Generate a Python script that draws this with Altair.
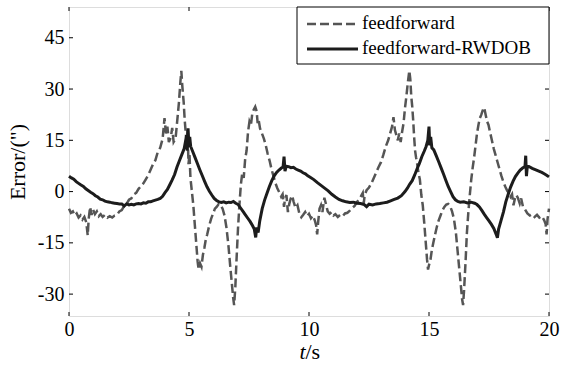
import altair as alt
import pandas as pd

# ---- data ----
t_ff = [0.00, 0.08, 0.16, 0.24, 0.32, 0.40, 0.48, 0.56, 0.64, 0.72, 0.78, 0.82, 0.88, 0.94,
        1.00, 1.08, 1.16, 1.24, 1.32, 1.40, 1.50, 1.60, 1.70, 1.80, 1.90, 2.00, 2.10, 2.20,
        2.30, 2.40, 2.50, 2.60, 2.70, 2.80, 2.90, 3.00, 3.10, 3.20, 3.30, 3.40, 3.50, 3.60,
        3.70, 3.80, 3.90, 3.98, 4.04, 4.10, 4.16, 4.24, 4.30, 4.36, 4.44, 4.50, 4.58, 4.64,
        4.68, 4.72, 4.78, 4.82, 4.86, 4.90, 4.94, 4.98, 5.02, 5.06, 5.12, 5.18, 5.24, 5.30,
        5.36, 5.40, 5.46, 5.52, 5.58, 5.64, 5.70, 5.76, 5.84, 5.92, 6.00, 6.08, 6.16, 6.24,
        6.32, 6.40, 6.48, 6.56, 6.64, 6.72, 6.78, 6.84, 6.88, 6.93, 6.98, 7.04, 7.10, 7.16,
        7.22, 7.28, 7.34, 7.40, 7.46, 7.52, 7.58, 7.64, 7.70, 7.76, 7.82, 7.86, 7.90, 7.96,
        8.04, 8.12, 8.20, 8.28, 8.36, 8.44, 8.52, 8.60, 8.68, 8.76, 8.84, 8.90, 8.96, 9.00,
        9.06, 9.12, 9.18, 9.24, 9.30, 9.36, 9.44, 9.52, 9.60, 9.68, 9.76, 9.84, 9.92, 10.00,
        10.08, 10.16, 10.24, 10.30, 10.34, 10.38, 10.44, 10.50, 10.56, 10.64, 10.70, 10.78,
        10.86, 10.94, 11.02, 11.10, 11.20, 11.30, 11.40, 11.50, 11.60, 11.70, 11.80, 11.90,
        12.00, 12.10, 12.18, 12.24, 12.28, 12.32, 12.40, 12.50, 12.60, 12.70, 12.80, 12.90,
        13.00, 13.10, 13.20, 13.30, 13.38, 13.46, 13.52, 13.58, 13.64, 13.70, 13.76, 13.82,
        13.88, 13.94, 14.00, 14.06, 14.12, 14.18, 14.22, 14.26, 14.30, 14.34, 14.38, 14.42,
        14.46, 14.50, 14.56, 14.62, 14.68, 14.74, 14.80, 14.86, 14.92, 14.96, 15.00, 15.06,
        15.12, 15.18, 15.24, 15.32, 15.40, 15.48, 15.56, 15.64, 15.72, 15.80, 15.88, 15.96,
        16.04, 16.12, 16.20, 16.26, 16.32, 16.38, 16.42, 16.46, 16.52, 16.58, 16.64, 16.70,
        16.76, 16.82, 16.88, 16.94, 17.00, 17.06, 17.12, 17.18, 17.24, 17.30, 17.36, 17.42,
        17.48, 17.54, 17.62, 17.70, 17.78, 17.86, 17.94, 18.02, 18.10, 18.18, 18.26, 18.34,
        18.40, 18.46, 18.52, 18.58, 18.64, 18.70, 18.78, 18.84, 18.92, 19.00, 19.10, 19.20,
        19.30, 19.40, 19.50, 19.60, 19.70, 19.80, 19.86, 19.90, 19.94, 20.00]
e_ff = [-5.0, -6.2, -5.8, -7.0, -6.4, -7.6, -7.0, -8.2, -7.4, -9.0, -12.8, -8.0, -4.5, -6.8,
        -5.2, -6.6, -5.8, -7.2, -6.6, -7.4, -6.8, -7.6, -7.2, -7.6, -7.0, -6.8, -5.8, -5.4,
        -4.2, -3.6, -2.4, -2.0, -0.8, -0.4, 0.8, 1.6, 2.4, 3.6, 4.8, 6.4, 8.0, 9.2,
        11.6, 12.8, 15.4, 21.5, 17.0, 19.0, 14.5, 15.8, 18.6, 14.5, 15.5, 20.0, 26.0, 32.0,
        35.3, 31.0, 26.0, 21.0, 17.5, 14.5, 18.0, 8.0, 11.0, 4.0, 0.0, -4.0, -9.5, -15.0,
        -20.5, -22.8, -21.0, -22.0, -18.5, -16.5, -14.0, -12.5, -10.0, -8.0, -6.5, -5.0, -4.4, -3.6,
        -4.0, -5.0, -7.0, -10.5, -15.5, -22.0, -26.5, -31.0, -33.2, -28.0, -20.0, -11.0, -4.0, 2.0,
        5.5, 4.0, 9.5, 12.0, 17.5, 20.5, 19.5, 23.0, 24.0, 24.8, 23.5, 20.0, 21.0, 18.5,
        17.0, 15.5, 13.5, 11.0, 9.0, 6.5, 4.5, 2.5, 1.0, -0.2, -1.5, -0.8, -4.5, -2.0,
        -1.0, -6.0, -3.5, -2.0, -1.2, -3.0, -4.8, -4.0, -6.5, -7.5, -6.8, -6.0, -7.2, -6.5,
        -7.8, -7.0, -8.4, -10.0, -12.5, -9.0, -5.0, -4.0, -6.0, -1.8, -3.5, -5.8,
        -6.5, -6.0, -7.0, -6.6, -7.4, -6.8, -7.2, -6.4, -6.2, -5.6, -4.8, -4.2,
        -3.0, -2.4, -1.2, -0.4, -3.5, -1.0, 0.4, 1.2, 2.4, 4.0, 5.6, 7.2,
        8.6, 10.8, 13.2, 15.0, 17.0, 19.0, 21.8, 18.0, 16.5, 15.0, 17.0, 14.5,
        17.5, 20.0, 24.5, 28.0, 32.0, 35.4, 33.0, 28.0, 25.0, 21.0, 16.0, 12.0,
        10.0, 8.5, 5.5, 3.5, -1.0, -4.0, -9.0, -14.5, -20.0, -22.8, -21.5, -20.0,
        -17.0, -15.0, -13.0, -10.5, -8.5, -7.0, -5.5, -4.5, -3.8, -3.6, -4.2, -5.8,
        -8.0, -12.0, -18.0, -22.5, -27.0, -31.5, -33.2, -29.0, -21.0, -12.0, -6.0, -1.0,
        3.5, 7.0, 10.0, 13.5, 17.0, 19.5, 21.5, 22.5, 23.8, 24.6, 22.5, 20.5,
        19.5, 17.5, 15.0, 12.5, 10.5, 8.5, 6.5, 4.5, 2.8, 1.4, 0.2, -0.5,
        -1.5, -0.8, -4.0, -2.0, -1.0, -1.8, -3.5, -2.0, -4.6, -5.2, -6.4, -7.0,
        -6.6, -7.4, -6.8, -7.6, -7.2, -8.4, -9.5, -12.5, -8.0, -5.0]

t_rw = [0.00, 0.10, 0.20, 0.30, 0.40, 0.50, 0.60, 0.70, 0.80, 0.90, 1.00, 1.10, 1.20, 1.30,
        1.40, 1.50, 1.60, 1.70, 1.80, 1.90, 2.00, 2.10, 2.20, 2.30, 2.40, 2.50, 2.60, 2.70,
        2.80, 2.90, 3.00, 3.10, 3.20, 3.30, 3.40, 3.50, 3.60, 3.70, 3.80, 3.90, 4.00, 4.10,
        4.20, 4.30, 4.40, 4.50, 4.60, 4.70, 4.80, 4.85, 4.90, 4.93, 4.96, 5.00, 5.03, 5.07,
        5.15, 5.25, 5.35, 5.45, 5.55, 5.65, 5.75, 5.85, 5.95, 6.05, 6.15, 6.25, 6.35, 6.45,
        6.55, 6.65, 6.75, 6.85, 6.95, 7.05, 7.15, 7.25, 7.35, 7.45, 7.55, 7.65, 7.72, 7.78,
        7.82, 7.88, 7.95, 8.05, 8.15, 8.25, 8.35, 8.45, 8.55, 8.65, 8.75, 8.85, 8.92, 8.96,
        9.00, 9.05, 9.15, 9.25, 9.35, 9.45, 9.55, 9.65, 9.75, 9.85, 9.95, 10.05, 10.20, 10.35,
        10.50, 10.65, 10.80, 10.95, 11.10, 11.25, 11.40, 11.55, 11.70, 11.85, 12.00, 12.15,
        12.30, 12.40, 12.50, 12.65, 12.80, 12.95, 13.10, 13.25, 13.40, 13.55, 13.70, 13.85,
        14.00, 14.10, 14.20, 14.30, 14.40, 14.50, 14.60, 14.70, 14.80, 14.88, 14.95, 15.00,
        15.03, 15.07, 15.12, 15.20, 15.30, 15.40, 15.50, 15.60, 15.70, 15.80, 15.90, 16.00,
        16.10, 16.20, 16.30, 16.45, 16.60, 16.75, 16.90, 17.00, 17.10, 17.20, 17.30, 17.40,
        17.50, 17.60, 17.70, 17.80, 17.85, 17.90, 18.00, 18.10, 18.20, 18.30, 18.40, 18.50,
        18.60, 18.70, 18.80, 18.90, 19.00, 19.03, 19.06, 19.10, 19.20, 19.30, 19.40, 19.50,
        19.60, 19.70, 19.80, 19.90, 20.00]
e_rw = [4.5, 4.0, 3.6, 2.9, 2.4, 1.9, 1.5, 0.8, 0.3, -0.2, -0.6, -1.2, -1.6, -2.2,
        -2.4, -2.8, -3.0, -3.1, -3.3, -3.4, -3.5, -3.6, -3.6, -4.2, -3.6, -3.9, -3.7, -3.9,
        -3.6, -3.5, -3.6, -3.3, -3.4, -3.0, -3.0, -2.7, -2.5, -2.3, -2.0, -1.4, -0.3, 0.6,
        2.0, 3.4, 5.0, 7.2, 9.0, 10.8, 12.6, 14.5, 16.5, 12.0, 18.5, 13.0, 16.0, 13.2,
        11.8, 10.0, 8.2, 6.4, 4.7, 3.0, 1.4, 0.1, -1.0, -2.0, -2.6, -3.0, -3.2, -3.0,
        -3.3, -3.1, -3.2, -2.9, -3.4, -3.8, -4.8, -5.8, -6.8, -7.8, -8.8, -10.0, -11.0, -13.4,
        -10.5, -12.0, -8.5, -5.0, -2.5, -0.5, 1.5, 3.2, 4.6, 5.6, 6.3, 6.9, 7.2, 10.2,
        6.0, 7.4, 7.3, 7.0, 7.1, 6.6, 6.3, 6.0, 5.5, 5.2, 4.6, 4.2, 3.5, 2.6,
        1.8, 1.0, 0.2, -0.8, -1.6, -2.3, -2.7, -3.0, -3.2, -3.1, -3.4, -3.5,
        -3.8, -4.4, -3.7, -3.9, -3.6, -3.5, -3.3, -3.1, -2.7, -2.3, -1.9, -1.2,
        0.0, 1.0, 2.2, 3.2, 4.8, 6.6, 8.2, 10.2, 11.8, 13.2, 15.0, 19.0,
        13.5, 16.0, 12.8, 12.2, 10.5, 8.8, 7.0, 5.2, 3.3, 1.5, 0.0, -1.5,
        -2.4, -2.9, -3.1, -3.0, -3.3, -3.1, -3.4, -3.8, -4.5, -5.5, -6.6, -7.6,
        -8.6, -9.6, -10.8, -12.5, -13.5, -11.0, -8.5, -6.0, -3.0, -0.8, 1.3, 3.0,
        4.4, 5.4, 6.3, 6.9, 7.3, 10.5, 4.5, 7.6, 7.2, 6.8, 6.5, 6.2,
        5.9, 5.6, 5.2, 4.8, 4.3]

x_ticks = [0, 5, 10, 15, 20]
y_ticks = [-30, -15, 0, 15, 30, 45]
series_names = ["feedforward", "feedforward-RWDOB"]

FONT = "Liberation Serif"
W, H = 480, 309
C_FF, C_RW = "#555555", "#1c1c1c"

df_ff = pd.DataFrame({"t": t_ff, "e": e_ff})
df_rw = pd.DataFrame({"t": t_rw, "e": e_rw})
df_xt = pd.DataFrame({"t": x_ticks})
df_yt = pd.DataFrame({"e": y_ticks})

xs = alt.Scale(domain=[0, 20], nice=False, zero=False)
ys = alt.Scale(domain=[-36.4, 54], nice=False, zero=False)

x_axis = alt.Axis(values=x_ticks, ticks=False, domain=False, grid=False,
                  labelFont=FONT, labelFontSize=20, labelColor="black",
                  labelPadding=3, labelFlush=False, title=None,
                  labelExpr="'' + datum.value")
y_axis = alt.Axis(values=y_ticks, ticks=False, domain=False, grid=False,
                  labelFont=FONT, labelFontSize=20, labelColor="black",
                  labelPadding=5, labelExpr="'' + datum.value",
                  title='Error/(")', titleFont=FONT, titleFontSize=22,
                  titleFontWeight="normal", titleColor="black", titlePadding=8)

X = alt.X("t:Q", scale=xs, axis=x_axis)
Y = alt.Y("e:Q", scale=ys, axis=y_axis)

ff = alt.Chart(df_ff).mark_line(color=C_FF, strokeWidth=2.5, strokeDash=[9, 4]).encode(x=X, y=Y)
rw = alt.Chart(df_rw).mark_line(color=C_RW, strokeWidth=3).encode(x=X, y=Y)

tk = dict(color="black", strokeWidth=1)
yt_left = alt.Chart(df_yt).mark_rule(**tk).encode(y=Y, x=alt.value(0), x2=alt.value(4))
yt_right = alt.Chart(df_yt).mark_rule(**tk).encode(y=Y, x=alt.value(W - 4), x2=alt.value(W))
xt_bot = alt.Chart(df_xt).mark_rule(**tk).encode(x=X, y=alt.value(H), y2=alt.value(H - 4))
xt_top = alt.Chart(df_xt).mark_rule(**tk).encode(x=X, y=alt.value(0), y2=alt.value(4))

# x-axis title with italic "t"
xt1 = alt.Chart(pd.DataFrame({"s": ["t"]})).mark_text(
    font=FONT, fontSize=22, fontStyle="italic", align="right", baseline="alphabetic",
    color="black").encode(text="s:N", x=alt.value(236.5), y=alt.value(352))
xt2 = alt.Chart(pd.DataFrame({"s": ["/s"]})).mark_text(
    font=FONT, fontSize=22, align="left", baseline="alphabetic",
    color="black").encode(text="s:N", x=alt.value(236.5), y=alt.value(352))

# legend box
leg_box = alt.Chart(pd.DataFrame({"a": [0]})).mark_rect(
    fill="white", stroke="black", strokeWidth=1).encode(
    x=alt.value(228), x2=alt.value(W), y=alt.value(0), y2=alt.value(57))
leg_l1 = alt.Chart(pd.DataFrame({"a": [0]})).mark_rule(
    color=C_FF, strokeWidth=2.5, strokeDash=[9, 4]).encode(
    x=alt.value(238), x2=alt.value(289), y=alt.value(17))
leg_l2 = alt.Chart(pd.DataFrame({"a": [0]})).mark_rule(
    color=C_RW, strokeWidth=3).encode(
    x=alt.value(238), x2=alt.value(289), y=alt.value(42))
leg_t1 = alt.Chart(pd.DataFrame({"s": [series_names[0]]})).mark_text(
    font=FONT, fontSize=19, align="left", baseline="middle", color="black").encode(
    text="s:N", x=alt.value(293), y=alt.value(16))
leg_t2 = alt.Chart(pd.DataFrame({"s": [series_names[1]]})).mark_text(
    font=FONT, fontSize=19, align="left", baseline="middle", color="black").encode(
    text="s:N", x=alt.value(293), y=alt.value(41))

chart = alt.layer(
    ff, rw, yt_left, yt_right, xt_bot, xt_top, xt1, xt2,
    leg_box, leg_l1, leg_l2, leg_t1, leg_t2
).properties(
    width=W, height=H,
    autosize=alt.AutoSizeParams(type="none"),
    padding={"left": 69, "top": 7, "right": 12, "bottom": 50},
).configure_view(stroke="black", strokeWidth=1.2).configure(background="white")

chart.save("out.html", embed_options={"renderer": "svg", "actions": False})
